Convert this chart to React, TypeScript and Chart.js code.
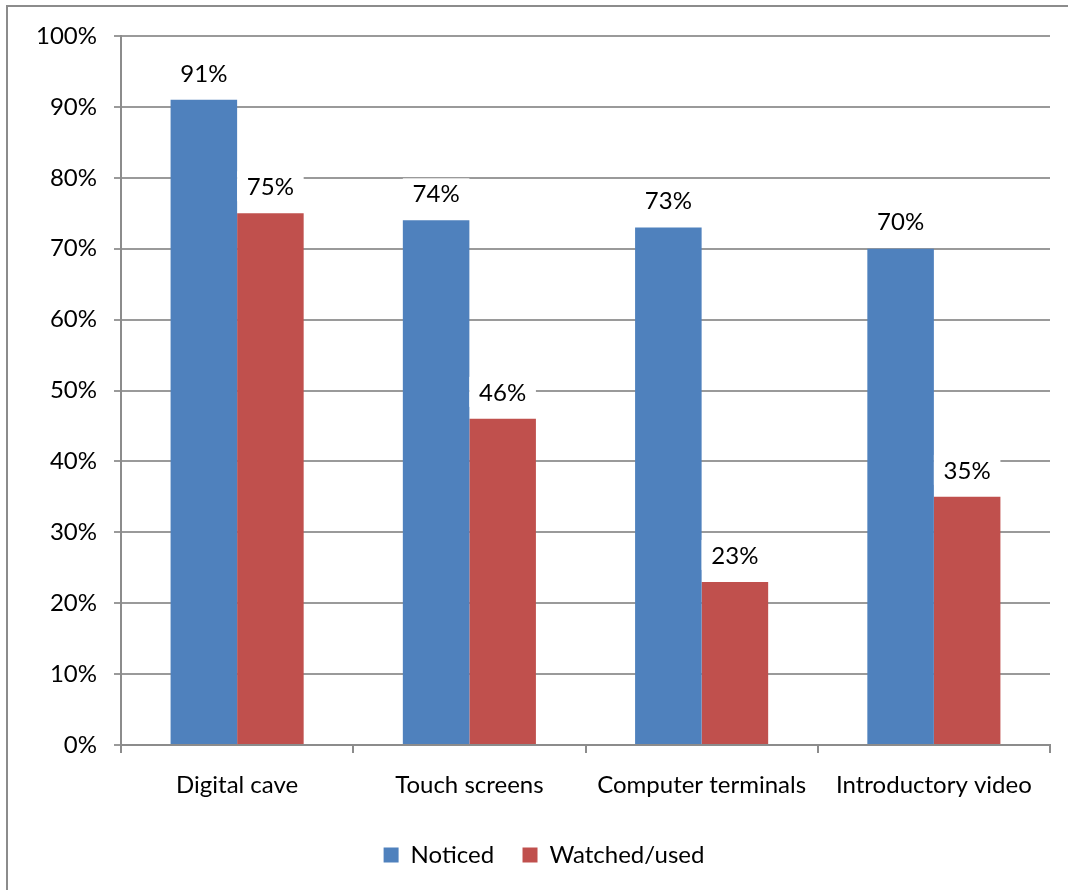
import React, { useEffect, useRef } from "react";
import { Chart, registerables } from "chart.js";

Chart.register(...registerables);

const categories = ["Digital cave", "Touch screens", "Computer terminals", "Introductory video"];
const noticed = [91, 74, 73, 70];
const watchedUsed = [75, 46, 23, 35];
const yTicks = [0, 10, 20, 30, 40, 50, 60, 70, 80, 90, 100];

const FONT = "Lato, 'Open Sans', sans-serif";
const FS = 24;

const labelPlugin = {
  id: "barLabels",
  afterDatasetsDraw(chart: any) {
    const ctx = chart.ctx;
    ctx.save();
    ctx.font = `${FS}px ${FONT}`;
    ctx.textAlign = "center";
    ctx.textBaseline = "middle";
    chart.data.datasets.forEach((ds: any, di: number) => {
      const meta = chart.getDatasetMeta(di);
      meta.data.forEach((bar: any, i: number) => {
        const cy = bar.y - 27;
        const w = bar.width;
        ctx.fillStyle = "#ffffff";
        ctx.fillRect(bar.x - w / 2, cy - 15, w, 30);
        ctx.fillStyle = "#000000";
        ctx.fillText(ds.data[i] + "%", bar.x, cy + 1);
      });
    });
    ctx.restore();
  },
};

export default function App() {
  const ref = useRef<HTMLCanvasElement | null>(null);

  useEffect(() => {
    if (!ref.current) return;
    const chart = new Chart(ref.current, {
      type: "bar",
      data: {
        labels: categories,
        datasets: [
          {
            label: "Noticed",
            data: noticed,
            backgroundColor: "#4F81BD",
            borderWidth: 0,
            categoryPercentage: 0.573,
            barPercentage: 1,
          },
          {
            label: "Watched/used",
            data: watchedUsed,
            backgroundColor: "#C0504D",
            borderWidth: 0,
            categoryPercentage: 0.573,
            barPercentage: 1,
          },
        ],
      },
      options: {
        animation: false,
        responsive: false,
        maintainAspectRatio: false,
        layout: { padding: { left: 38, right: 18, top: 36, bottom: 13 } },
        plugins: {
          tooltip: { enabled: false },
          legend: {
            position: "bottom",
            labels: {
              boxWidth: 15,
              boxHeight: 15,
              padding: 10,
              color: "#000",
              font: { family: FONT, size: FS },
              generateLabels: (chart: any) => {
                const items = Chart.defaults.plugins.legend.labels.generateLabels(chart);
                items.forEach((it: any, idx: number) => {
                  if (idx < items.length - 1) it.text = it.text + "   ";
                  it.lineWidth = 0;
                });
                return items;
              },
            },
          },
        },
        scales: {
          x: {
            afterFit: (s: any) => {
              s.height = 88;
            },
            grid: {
              offset: true,
              drawOnChartArea: false,
              drawTicks: true,
              tickLength: 8,
              color: "#8c8c8c",
              lineWidth: 2,
            },
            border: { color: "#8c8c8c", width: 2 },
            ticks: {
              color: "#000",
              padding: 18,
              font: { family: FONT, size: FS },
              maxRotation: 0,
            },
          },
          y: {
            min: 0,
            max: 100,
            afterFit: (s: any) => {
              s.width = 83;
            },
            afterBuildTicks: (s: any) => {
              s.ticks = yTicks.map((v) => ({ value: v }));
            },
            grid: {
              color: "#9a9a9a",
              lineWidth: 2,
              tickLength: 7,
            },
            border: { color: "#8c8c8c", width: 2 },
            ticks: {
              color: "#000",
              padding: 17,
              font: { family: FONT, size: FS },
              callback: (v: any) => v + "%",
            },
          },
        },
      },
      plugins: [labelPlugin],
    });
    return () => chart.destroy();
  }, []);

  return (
    <div
      style={{
        position: "fixed",
        left: 0,
        top: 0,
        width: 1068,
        height: 890,
        overflow: "hidden",
        background: "#fff",
      }}
    >
      <div
        style={{
          position: "absolute",
          left: 6,
          top: 5,
          width: 1200,
          height: 1000,
          border: "2px solid #8c8c8c",
        }}
      />
      <canvas
        ref={ref}
        width={1068}
        height={890}
        style={{ position: "absolute", left: 0, top: 0, width: 1068, height: 890 }}
      />
    </div>
  );
}
